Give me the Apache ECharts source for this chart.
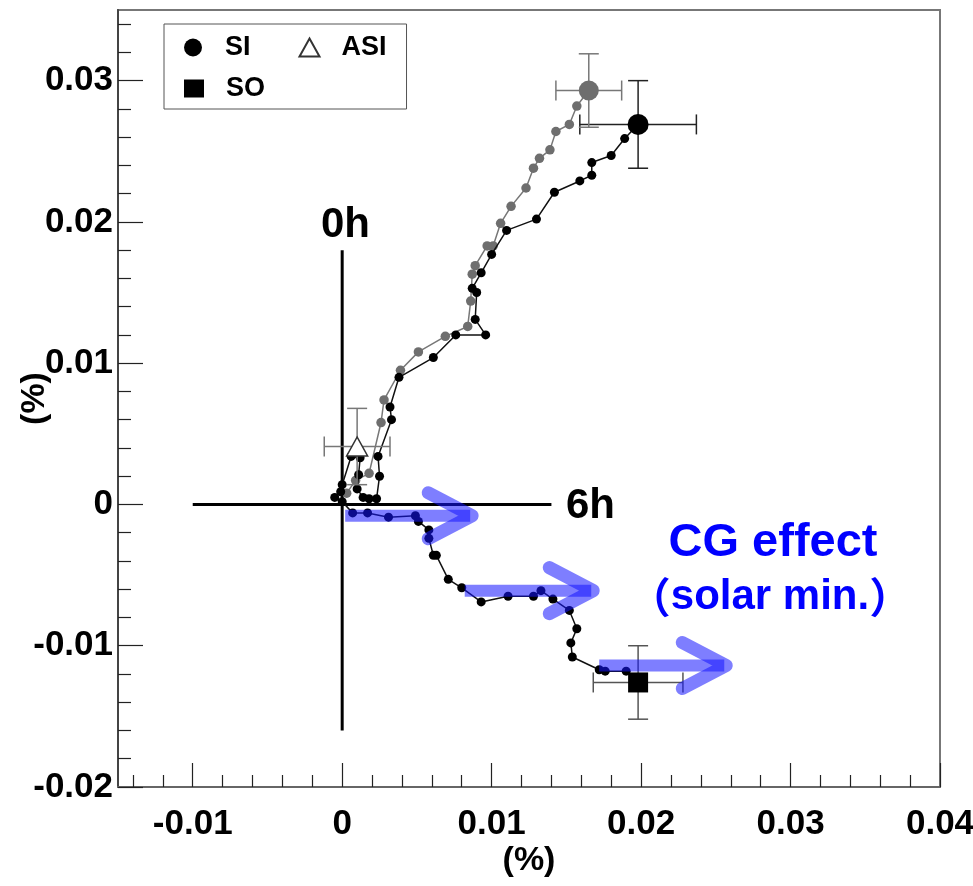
<!DOCTYPE html>
<html><head><meta charset="utf-8">
<script src="https://cdn.jsdelivr.net/npm/echarts@6/dist/echarts.min.js"></script>
<style>html,body{margin:0;padding:0;background:#fff}#c{width:973px;height:886px}</style>
</head><body><div id="c"></div>
<script>
// ---- tick values ----
const xMajorTicks = [-0.01, 0, 0.01, 0.02, 0.03, 0.04];
const yMajorTicks = [-0.02, -0.01, 0, 0.01, 0.02, 0.03];
const xMinorTicks = [-0.014,-0.012,-0.008,-0.006,-0.004,-0.002,0.002,0.004,0.006,0.008,0.012,0.014,0.016,0.018,0.022,0.024,0.026,0.028,0.032,0.034,0.036,0.038];
const yMinorTicks = [-0.018,-0.016,-0.014,-0.012,-0.008,-0.006,-0.004,-0.002,0.002,0.004,0.006,0.008,0.012,0.014,0.016,0.018,0.022,0.024,0.026,0.028,0.032,0.034];

// ---- black trajectory (SI -> origin -> SO) ----
const blackPathX = [0.0198,0.0189,0.0180,0.0167,0.0167,0.0159,0.0142,0.0130,0.0110,0.0100,0.0093,0.0087,0.0090,0.0089,0.0096,0.0076,0.0061,0.0038,0.0032,0.0033,0.0024,0.0025,0.0023,0.0018,0.0014,0.0010,0.0011,0.0012,0.0006,0.0000,-0.0001,-0.0005,0.0000,0.0007,0.0017,0.0031,0.0049,0.0051,0.0058,0.0058,0.0061,0.0063,0.0071,0.0080,0.0093,0.0111,0.0128,0.0133,0.0141,0.0152,0.0157,0.0153,0.0154,0.0172,0.0176,0.0190,0.0198];
const blackPathY = [0.0269,0.0259,0.0247,0.0242,0.0233,0.0229,0.0221,0.0202,0.0194,0.0177,0.0164,0.0153,0.0150,0.0131,0.0120,0.0120,0.0104,0.0090,0.0069,0.0060,0.0034,0.0020,0.0004,0.0004,0.0005,0.0011,0.0021,0.0033,0.0034,0.0014,0.0009,0.0005,0.0002,-0.0006,-0.0006,-0.0009,-0.0008,-0.0012,-0.0018,-0.0024,-0.0036,-0.0036,-0.0053,-0.0059,-0.0069,-0.0065,-0.0065,-0.0061,-0.0067,-0.0075,-0.0088,-0.0098,-0.0108,-0.0117,-0.0118,-0.0118,-0.0126];

// ---- gray trajectory ----
const grayPathX = [0.0165,0.0157,0.0152,0.0143,0.0139,0.0132,0.0128,0.0123,0.0113,0.0106,0.0101,0.0097,0.0089,0.0087,0.0086,0.0084,0.0069,0.0051,0.0039,0.0028,0.0026,0.0018,0.0009,0.0003];
const grayPathY = [0.0293,0.0282,0.0269,0.0264,0.0251,0.0245,0.0238,0.0224,0.0211,0.0199,0.0183,0.0183,0.0169,0.0163,0.0144,0.0126,0.0119,0.0108,0.0095,0.0074,0.0058,0.0022,0.0017,0.0008];

// ---- big points with error bars ----
const pointNames = ['SI', 'SI (gray)', 'ASI', 'SO'];
const pointX    = [0.0198, 0.0165, 0.0010, 0.0198];
const pointY    = [0.0269, 0.0293, 0.0041, -0.0126];
const pointXErr = [0.0039, 0.0022, 0.0022, 0.0030];
const pointYErr = [0.0031, 0.0026, 0.0027, 0.0026];

// ---- reference cross (0h / 6h) ----
const vLineY = [0.018, -0.016];
const hLineX = [-0.01, 0.014];

// ---- CG effect arrows ----
const arrowStartX = [0.0002, 0.0082, 0.0172];
const arrowTipX   = [0.0091, 0.0172, 0.0261];
const arrowY      = [-0.0008, -0.0061, -0.0114];

// ---- build ----
const FONT = "'Liberation Sans', Arial, sans-serif";
const CJK = "'Noto Sans CJK JP'";
const zip = (a, b) => a.map((v, i) => [v, b[i]]);
const errColors = ['#222', '#777', '#777', '#555'];
const errData = pointX.map((x, i) => [x, pointY[i], pointXErr[i], pointYErr[i], i]);
const arrowData = arrowStartX.map((x, i) => [x, arrowTipX[i], arrowY[i]]);

function renderErr(params, api) {
  const x = api.value(0), y = api.value(1), ex = api.value(2), ey = api.value(3);
  const color = errColors[api.value(4)];
  const l = api.coord([x - ex, y]), r = api.coord([x + ex, y]);
  const t = api.coord([x, y + ey]), b = api.coord([x, y - ey]);
  const c = 10, st = { stroke: color, lineWidth: 1.5 };
  const ln = (x1, y1, x2, y2) => ({ type: 'line', shape: { x1, y1, x2, y2 }, style: st });
  return { type: 'group', children: [
    ln(l[0], l[1], r[0], r[1]), ln(t[0], t[1], b[0], b[1]),
    ln(l[0], l[1] - c, l[0], l[1] + c), ln(r[0], r[1] - c, r[0], r[1] + c),
    ln(t[0] - c, t[1], t[0] + c, t[1]), ln(b[0] - c, b[1], b[0] + c, b[1])
  ]};
}
function renderArrow(params, api) {
  const s = api.coord([api.value(0), api.value(2)]);
  const e = api.coord([api.value(1), api.value(2)]);
  const fill = 'rgba(20,20,255,0.55)';
  const tx = e[0] - 6;
  return { type: 'group', children: [
    { type: 'line', shape: { x1: s[0], y1: s[1], x2: e[0] - 8, y2: e[1] },
      style: { stroke: fill, lineWidth: 12, lineCap: 'butt' } },
    { type: 'polyline', shape: { points: [[tx - 44, e[1] - 23], [tx, e[1]], [tx - 44, e[1] + 23]] },
      style: { stroke: fill, fill: null, lineWidth: 13, lineCap: 'round', lineJoin: 'round' } }
  ]};
}

const labelStyle = { fontSize: 35, fontWeight: 'bold', color: '#000', fontFamily: FONT };
const nameStyle = { fontSize: 34, fontWeight: 'bold', color: '#000', fontFamily: FONT };
const legendText = { fontSize: 27, fontWeight: 'bold', color: '#000', fontFamily: FONT, lineHeight: 29, padding: [0, 0, 0, 17] };

const option = {
  animation: false,
  backgroundColor: '#fff',
  grid: { left: 118, top: 10, width: 822, height: 777, show: true, borderColor: '#777', borderWidth: 2,
          backgroundColor: 'transparent', containLabel: false, outerBoundsMode: 'none' },
  xAxis: [
    { type: 'value', min: -0.015, max: 0.04, position: 'bottom',
      axisLine: { show: true, onZero: false, lineStyle: { color: '#666', width: 2 } },
      axisTick: { show: true, inside: true, length: 24, customValues: xMajorTicks, lineStyle: { color: '#222', width: 1.2 } },
      axisLabel: Object.assign({ customValues: xMajorTicks, margin: 20 }, labelStyle),
      splitLine: { show: false },
      name: '(%)', nameLocation: 'middle', nameGap: 57, nameMoveOverlap: false, nameTextStyle: nameStyle },
    { type: 'value', min: -0.015, max: 0.04, position: 'bottom',
      axisLine: { show: false, onZero: false },
      axisTick: { show: true, inside: true, length: 12, customValues: xMinorTicks, lineStyle: { color: '#222', width: 1.2 } },
      axisLabel: { show: false }, splitLine: { show: false } }
  ],
  yAxis: [
    { type: 'value', min: -0.02, max: 0.035, position: 'left',
      axisLine: { show: true, onZero: false, lineStyle: { color: '#444', width: 2 } },
      axisTick: { show: true, inside: true, length: 25, customValues: yMajorTicks, lineStyle: { color: '#222', width: 1.2 } },
      axisLabel: Object.assign({ customValues: yMajorTicks, margin: 5 }, labelStyle),
      splitLine: { show: false },
      name: '(%)', nameLocation: 'middle', nameGap: 66, nameRotate: 90, nameMoveOverlap: false, nameTextStyle: nameStyle },
    { type: 'value', min: -0.02, max: 0.035, position: 'left',
      axisLine: { show: false, onZero: false },
      axisTick: { show: true, inside: true, length: 13, customValues: yMinorTicks, lineStyle: { color: '#222', width: 1.2 } },
      axisLabel: { show: false }, splitLine: { show: false } }
  ],
  legend: [
    { left: 164, top: 24, orient: 'horizontal', padding: [9, 20, 47, 20], itemGap: 48, itemWidth: 20, itemHeight: 18,
      borderColor: '#555', borderWidth: 1, selectedMode: false, textStyle: legendText,
      data: [{ name: 'SI', icon: 'circle' }, { name: 'ASI', icon: 'triangle' }] },
    { left: 164, top: 65, orient: 'horizontal', padding: [9, 0, 0, 20], itemWidth: 20, itemHeight: 18,
      selectedMode: false, textStyle: legendText, data: [{ name: 'SO', icon: 'rect' }] }
  ],
  graphic: [
    { type: 'text', left: 321, top: 204, style: { text: '0h', font: "bold 42px " + FONT, fill: '#000' } },
    { type: 'text', left: 566, top: 485, style: { text: '6h', font: "bold 42px " + FONT, fill: '#000' } },
    { type: 'text', x: 773, y: 543, style: { text: 'CG effect', font: "bold 47px " + FONT, fill: '#0000ff', align: 'center', verticalAlign: 'middle' } },
    { type: 'text', x: 770, y: 597, style: {
        text: '{p|（}solar min.{p|）}', align: 'center', verticalAlign: 'middle',
        fontSize: 42, fontWeight: 'bold', fontFamily: FONT, fill: '#0000ff',
        rich: { p: { fontSize: 42, fontWeight: 'bold', fontFamily: CJK, fill: '#0000ff' } } } }
  ],
  series: [
    { name: '0h line', type: 'line', silent: true, symbol: 'none', z: 1,
      data: vLineY.map(y => [0, y]), lineStyle: { color: '#000', width: 3 } },
    { name: '6h line', type: 'line', silent: true, symbol: 'none', z: 1,
      data: hLineX.map(x => [x, 0]), lineStyle: { color: '#000', width: 3 } },
    { name: 'gray path', type: 'line', data: zip(grayPathX, grayPathY), z: 2,
      symbol: 'circle', symbolSize: 9.5, showAllSymbol: true,
      lineStyle: { color: '#777', width: 1.5 }, itemStyle: { color: '#6e6e6e', opacity: 1 } },
    { name: 'black path', type: 'line', data: zip(blackPathX, blackPathY), z: 3,
      symbol: 'circle', symbolSize: 9, showAllSymbol: true,
      lineStyle: { color: '#111', width: 1.5 }, itemStyle: { color: '#000', opacity: 1 } },
    { name: 'error bars', type: 'custom', renderItem: renderErr, data: errData, z: 4,
      encode: { x: 0, y: 1 }, silent: true },
    { name: pointNames[1], type: 'scatter', data: [[pointX[1], pointY[1]]], symbol: 'circle', symbolSize: 20, z: 5,
      itemStyle: { color: '#6e6e6e', opacity: 1 } },
    { name: pointNames[0], type: 'scatter', data: [[pointX[0], pointY[0]]], symbol: 'circle', symbolSize: 21, z: 5,
      itemStyle: { color: '#000', opacity: 1 } },
    { name: pointNames[2], type: 'scatter', data: [[pointX[2], pointY[2]]], symbol: 'triangle', symbolSize: [21, 19], z: 5,
      itemStyle: { color: '#fff', borderColor: '#333', borderWidth: 1.5, opacity: 1 } },
    { name: pointNames[3], type: 'scatter', data: [[pointX[3], pointY[3]]], symbol: 'rect', symbolSize: 20, z: 5,
      itemStyle: { color: '#000', opacity: 1 } },
    { name: 'CG arrows', type: 'custom', renderItem: renderArrow, data: arrowData, z: 10,
      encode: { x: [0, 1], y: 2 }, silent: true }
  ]
};
const chart = echarts.init(document.getElementById('c'), null, { renderer: 'canvas' });
chart.setOption(option);
</script></body></html>
